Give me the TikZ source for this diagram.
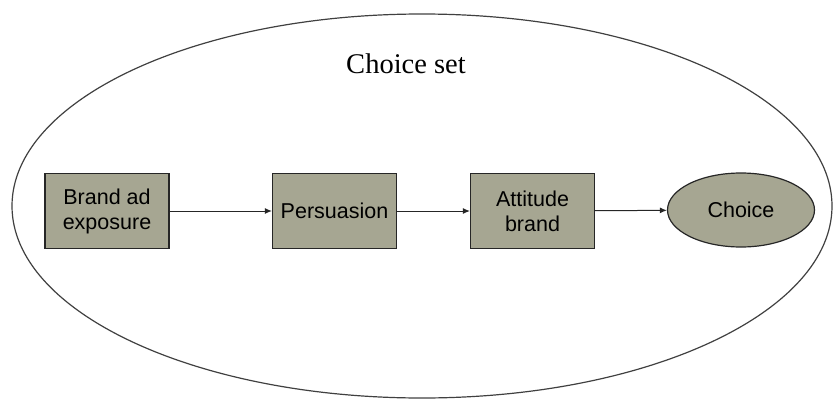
\documentclass[tikz,border=0pt]{standalone}
\usepackage{fontspec}
\setmainfont{Liberation Sans}
\newfontfamily\titlefont{Liberation Serif}
\usetikzlibrary{shapes.geometric,arrows.meta}
\definecolor{boxfill}{RGB}{166,166,146}
\begin{document}
\begin{tikzpicture}[x=1pt,y=-1pt,
  stepbox/.style={draw=black!85,line width=1.2pt,fill=boxfill,minimum width=124pt,minimum height=75pt,inner sep=0pt,align=center,font=\fontsize{21.5}{25}\selectfont},
  endoval/.style={ellipse,draw=black!85,line width=1.2pt,fill=boxfill,minimum width=147pt,minimum height=74pt,inner sep=0pt,font=\fontsize{21.5}{25}\selectfont},
  flow/.style={draw=black!85,line width=1pt,-{Latex[length=7pt,width=6pt]}}]
\useasboundingbox (0,0) rectangle (833,399);
\draw[black!75,line width=1.2pt] (422,206) ellipse [x radius=410, y radius=192];
\node[font=\titlefont\fontsize{28.5}{32}\selectfont] (title) at (406,64) {Choice set};
\node[stepbox] (ad) at (107,211) {Brand ad\\exposure};
\node[stepbox] (pers) at (334.5,211) {Persuasion};
\node[stepbox] (att) at (532.5,211) {Attitude\\brand};
\node[endoval] (choice) at (741,210) {Choice};
\draw[flow] (ad) -- (pers);
\draw[flow] (pers) -- (att);
\draw[flow] (att) -- (choice);
\end{tikzpicture}
\end{document}
